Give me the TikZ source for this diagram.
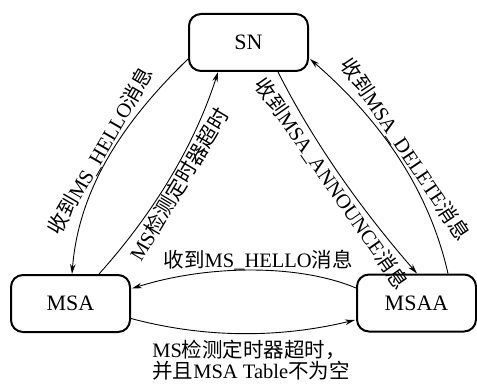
\documentclass[tikz,border=0pt]{standalone}
\usepackage{fontspec}
\setmainfont{Liberation Serif}
\newfontfamily\cjk{Noto Sans CJK SC}
\newcommand\zh[1]{{\cjk #1}}
\usetikzlibrary{arrows.meta,calc}
\begin{document}
\begin{tikzpicture}[x=1pt,y=-1pt,
  state/.style={draw,line width=2pt,rounded corners=12pt,minimum width=119pt,minimum height=57pt,inner sep=0pt,font=\fontsize{22}{24}\selectfont},
  edge/.style={line width=0.9pt,-{Stealth[length=10pt,width=5.5pt]}},
  lab/.style={font=\fontsize{20.5}{22}\selectfont,inner sep=0pt}]
\useasboundingbox (0,0) rectangle (477,385);
\node[state] (SN) at (248.5,42.5) {SN};
\node[state] (MSA) at (70.5,303.5) {MSA};
\node[state] (MSAA) at (416.5,303) {MSAA};
% SN -> MSA
\draw[edge] ($(SN.south west)+(0,-13)$) .. controls +(-62,60) and +(7,-88) .. ($(MSA.north west)+(62,0)$)
  node[lab,sloped,pos=0.5,above] {\zh{收到}MS\_HELLO\zh{消息}};
% MSA -> SN
\draw[edge] ($(MSA.north west)+(89,0)$) .. controls +(53,-59) and +(-24,75) .. ($(SN.south west)+(30,0)$)
  node[lab,sloped,pos=0.5,below=1pt] {MS\zh{检测定时器超时}};
% SN -> MSAA
\draw[edge] ($(SN.south west)+(90,0)$) .. controls +(37,73) and +(-54,-62) .. ($(MSAA.north west)+(61,0)$)
  node[lab,sloped,pos=0.5,below=1pt] {\zh{收到}MSA\_ANNOUNCE\zh{消息}};
% MSAA -> SN
\draw[edge] ($(MSAA.north west)+(92,0)$) .. controls +(-20,-88) and +(67,58) .. ($(SN.south east)+(1,-13)$)
  node[lab,sloped,pos=0.5,above] {\zh{收到}MSA\_DELETE\zh{消息}};
% MSAA -> MSA
\draw[edge] ($(MSAA.west)+(0,-15)$) .. controls +(-57,-24) and +(76,-24) .. ($(MSA.east)+(1,-15)$)
  node[lab,pos=0.47,above] {\zh{收到}MS\_HELLO\zh{消息}};
% MSA -> MSAA
\draw[edge] ($(MSA.east)+(0,15)$) .. controls +(75,20) and +(-75,18) .. ($(MSAA.west)+(-1,17)$)
  node[lab,pos=0.5,below=6pt,xshift=8pt,align=left,font=\fontsize{20.5}{21.5}\selectfont] {MS\zh{检测定时器超时，}\\\zh{并且}MSA Table\zh{不为空}};
\end{tikzpicture}
\end{document}
